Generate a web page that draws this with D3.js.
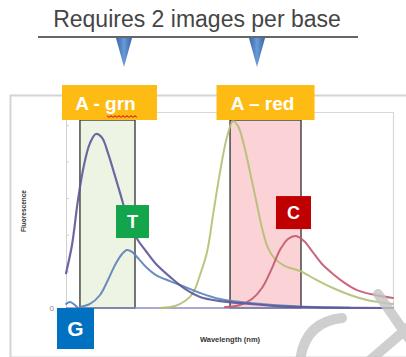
<!DOCTYPE html>
<html>
<head>
<meta charset="utf-8">
<script src="https://cdn.jsdelivr.net/npm/d3@7/dist/d3.min.js"></script>
<style>
  html, body { margin: 0; padding: 0; background: #ffffff; }
  svg { display: block; }
</style>
</head>
<body>
<script>
// Emission spectra (wavelength in nm, relative fluorescence)
const violetNm  = [480, 485.5, 491, 496.5, 502, 507.5, 513, 518.3, 524, 529.5, 535, 540.5, 546, 553.4, 562.6, 575.4, 589.2, 603, 621.3, 648.8, 680, 720, 780];
const violetVal = [0.19, 0.344, 0.59, 0.78, 0.90, 0.95, 0.93, 0.85, 0.74, 0.63, 0.52, 0.44, 0.37, 0.31, 0.24, 0.17, 0.104, 0.06, 0.038, 0.022, 0.008, 0.002, 0];

const blueNm  = [492.8, 502, 511.2, 518.5, 525, 531.4, 536, 540.6, 546, 553.4, 562.6, 575.4, 589.2, 603, 621.3, 648.8, 694.7, 740];
const blueVal = [0.005, 0.022, 0.071, 0.153, 0.235, 0.295, 0.317, 0.306, 0.273, 0.224, 0.18, 0.147, 0.115, 0.082, 0.049, 0.027, 0.008, 0.002];

const greenNm  = [566.2, 580, 589.2, 596.5, 602.9, 609.4, 614.9, 621.3, 627.7, 633.2, 637.8, 643.3, 648.8, 654.3, 659.8, 665.3, 671.7, 680.9, 694.7, 708.4, 724.9, 740.6, 756.1, 780];
const greenVal = [0, 0.011, 0.038, 0.082, 0.18, 0.306, 0.508, 0.742, 0.933, 1.02, 0.993, 0.889, 0.742, 0.59, 0.437, 0.328, 0.268, 0.229, 0.202, 0.158, 0.109, 0.071, 0.044, 0.022];

const redNm  = [625.9, 639.6, 650.6, 659.8, 669, 676.3, 683.7, 691, 698.3, 705.7, 714.9, 724.9, 735.9, 746.9, 763.5, 780];
const redVal = [0.005, 0.016, 0.049, 0.109, 0.218, 0.317, 0.377, 0.393, 0.366, 0.311, 0.24, 0.186, 0.136, 0.098, 0.071, 0.055];

const gNm  = [480, 483.7, 487, 491];
const gVal = [0.022, 0.033, 0.022, 0];

// Imaging windows (nm)
const bandNames = ["A - grn", "A \u2013 red"];
const bandLo = [492.8, 630.5];
const bandHi = [543.3, 695.6];

// Base call tags: letter and centre (nm, relative fluorescence)
const tagLetters = ["T", "C", "G"];
const tagNm  = [541, 688.7, 488.7];
const tagVal = [0.472, 0.521, -0.112];

const yTicks = [0, 0.2, 0.4, 0.6, 0.8, 1.0];

const W = 406, H = 357;
const svg = d3.select("body").append("svg").attr("width", W).attr("height", H);
svg.append("rect").attr("width", W).attr("height", H).attr("fill", "#ffffff");

const x = d3.scaleLinear().domain([480, 780]).range([66, 393]);
const y = d3.scaleLinear().domain([0, 1.07]).range([308, 112]);

// Heading with its rule and pointers
svg.append("text").attr("x", 197).attr("y", 27).attr("text-anchor", "middle")
  .attr("font-family", "Liberation Sans, Arial, sans-serif").attr("font-size", 23)
  .attr("fill", "#454545").text("Requires 2 images per base");
svg.append("line").attr("x1", 38).attr("x2", 358).attr("y1", 37).attr("y2", 37)
  .attr("stroke", "#333").attr("stroke-width", 1.5);

const defs = svg.append("defs");
const tg = defs.append("linearGradient").attr("id", "tri").attr("x1", 0).attr("x2", 1);
tg.append("stop").attr("offset", 0).attr("stop-color", "#3465a8");
tg.append("stop").attr("offset", 0.5).attr("stop-color", "#6a9ad6");
tg.append("stop").attr("offset", 1).attr("stop-color", "#3465a8");
[124, 257].forEach(cx => {
  svg.append("path").attr("d", `M${cx - 8},38 L${cx + 8},38 L${cx},67 Z`).attr("fill", "url(#tri)");
});

// Chart frame
svg.append("rect").attr("x", 10.5).attr("y", 95.5).attr("width", 400).attr("height", 262)
  .attr("fill", "none").attr("stroke", "#d4d4d4").attr("stroke-width", 2);
svg.append("path").attr("d", `M66,112.5 H393.5 V308`).attr("fill", "none")
  .attr("stroke", "#d8d8d8").attr("stroke-width", 1.2);

// Imaging windows
const bandFill = ["#eef4e3", "#fbd3d6"];
bandLo.forEach((lo, i) => {
  svg.append("rect").attr("x", x(lo)).attr("y", 120)
    .attr("width", x(bandHi[i]) - x(lo)).attr("height", y(0) - 120)
    .attr("fill", bandFill[i]).attr("stroke", "#3d3d3d").attr("stroke-width", 1.4);
});

// Axes
const yAxis = d3.axisLeft(y).tickValues(yTicks).tickSize(-3).tickFormat(d => d === 0 ? "0" : "");
const ya = svg.append("g").attr("transform", "translate(66,0)").call(yAxis);
ya.select(".domain").attr("stroke", "#d0d0d0");
ya.selectAll(".tick line").attr("stroke", "#d0d0d0");
ya.selectAll(".tick text").attr("font-size", 8).attr("fill", "#888").attr("x", -12)
  .attr("font-family", "Liberation Sans, Arial, sans-serif");

svg.append("line").attr("x1", 66).attr("x2", 393).attr("y1", y(0)).attr("y2", y(0))
  .attr("stroke", "#8a8cc4").attr("stroke-width", 1.5);

svg.append("text").attr("transform", "translate(26,211) rotate(-90)")
  .attr("text-anchor", "middle").attr("font-family", "Liberation Sans, Arial, sans-serif")
  .attr("font-size", 6.5).attr("font-weight", "bold").attr("fill", "#333").text("Fluorescence");
svg.append("text").attr("x", 230).attr("y", 342).attr("text-anchor", "middle")
  .attr("font-family", "Liberation Sans, Arial, sans-serif")
  .attr("font-size", 7.5).attr("font-weight", "bold").attr("fill", "#333").text("Wavelength (nm)");

// Spectra
const line = d3.line().x(d => x(d[0])).y(d => y(d[1])).curve(d3.curveCatmullRom.alpha(0.5));
function spectrum(nm, val, color, w) {
  svg.append("path").datum(d3.zip(nm, val)).attr("d", line)
    .attr("fill", "none").attr("stroke", color).attr("stroke-width", w)
    .attr("stroke-linejoin", "round").attr("stroke-linecap", "round").attr("opacity", 0.9);
}
spectrum(greenNm, greenVal, "#b2bf72", 2);
spectrum(redNm, redVal, "#c45670", 2);
spectrum(blueNm, blueVal, "#5a82b6", 2);
spectrum(violetNm, violetVal, "#5c5898", 2.2);
spectrum(gNm, gVal, "#4f7fc0", 2);

// Window labels
bandNames.forEach((name, i) => {
  const cx = (x(bandLo[i]) + x(bandHi[i])) / 2;
  const w = i === 0 ? 95 : 98;
  svg.append("rect").attr("x", cx - w / 2 + (i === 0 ? 2 : 0)).attr("y", 85)
    .attr("width", w).attr("height", 35).attr("fill", "#fdbb13");
  svg.append("text").attr("x", cx - (i === 0 ? 2 : 3)).attr("y", 110).attr("text-anchor", "middle")
    .attr("font-family", "Liberation Sans, Arial, sans-serif").attr("font-size", 19)
    .attr("font-weight", "bold").attr("fill", "#ffffff").text(name);
});
// spell-check squiggle under "grn"
const sq = d3.range(0, 16).map(k => [107 + k * 2, 116 + (k % 2 ? 1.4 : -0.2)]);
svg.append("path").attr("d", d3.line()(sq)).attr("fill", "none")
  .attr("stroke", "#e23b2e").attr("stroke-width", 1.1);

// Base tags
const tagFill = ["#13a54b", "#c00000", "#0070c0"];
const tagSize = [[33, 33], [35, 33], [37, 41]];
tagLetters.forEach((t, i) => {
  const [w, h] = tagSize[i];
  const cx = x(tagNm[i]), cy = y(tagVal[i]);
  svg.append("rect").attr("x", cx - w / 2).attr("y", cy - h / 2).attr("width", w).attr("height", h)
    .attr("fill", tagFill[i]);
  svg.append("text").attr("x", cx).attr("y", cy + (i === 2 ? 7.5 : 6.5)).attr("text-anchor", "middle")
    .attr("font-family", "Liberation Sans, Arial, sans-serif").attr("font-size", i === 2 ? 21 : 18)
    .attr("font-weight", "bold").attr("fill", "#ffffff").text(t);
});

// Corner logo mark
const mark = svg.append("g").attr("fill", "none").attr("stroke", "#c4c4c4")
  .attr("stroke-width", 10).attr("stroke-linecap", "round").attr("opacity", 0.8);
mark.append("path").attr("d", "M300,362 Q304,322 342,318");
mark.append("path").attr("d", "M378,294 L410,340");
mark.append("path").attr("d", "M368,362 L410,326");
</script>
</body>
</html>
